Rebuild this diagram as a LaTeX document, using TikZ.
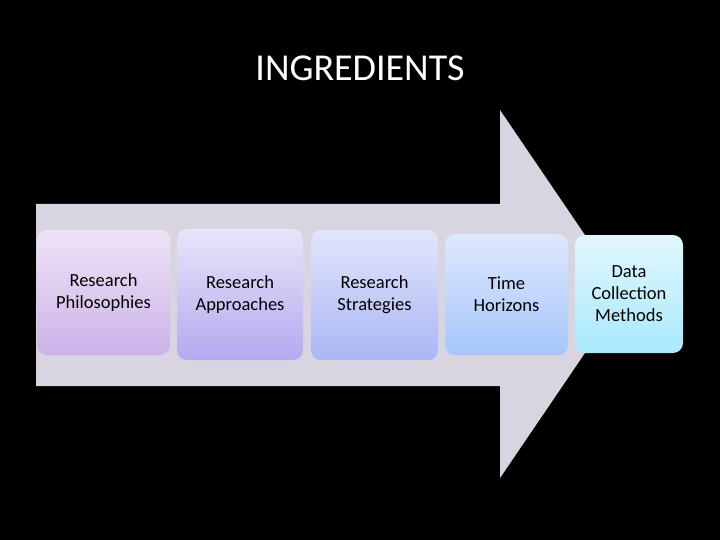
\documentclass[tikz,border=0pt]{standalone}
\usepackage{fontspec}
\setmainfont{Carlito}
\begin{document}
\begin{tikzpicture}[x=1pt,y=-1pt,
 box/.style={rounded corners=10pt,align=center,font=\fontsize{18.5}{22}\selectfont,text=black,inner sep=0pt}]
\fill[black] (0,0) rectangle (720,540);
\useasboundingbox (0,0) rectangle (720,540);
\node[text=white,font=\fontsize{38}{44}\selectfont] (title) at (360,68) {INGREDIENTS};
\fill[fill={rgb,255:red,216;green,212;blue,224}] (36,204) -- (500,204) -- (500,110) -- (625,294) -- (500,478) -- (500,386) -- (36,386) -- cycle;
\node[box,top color={rgb,255:red,238;green,228;blue,247},bottom color={rgb,255:red,204;green,178;blue,232},minimum width=133,minimum height=125] (b1) at (103.5,292.5) {Research\\Philosophies};
\node[box,top color={rgb,255:red,234;green,228;blue,250},bottom color={rgb,255:red,178;green,170;blue,238},minimum width=126,minimum height=131] (b2) at (240,294.5) {Research\\Approaches};
\node[box,top color={rgb,255:red,226;green,230;blue,251},bottom color={rgb,255:red,170;green,182;blue,244},minimum width=127,minimum height=130] (b3) at (374.5,295) {Research\\Strategies};
\node[box,top color={rgb,255:red,222;green,232;blue,252},bottom color={rgb,255:red,166;green,198;blue,252},minimum width=123,minimum height=121] (b4) at (506.5,294.5) {Time\\Horizons};
\node[box,top color={rgb,255:red,226;green,246;blue,253},bottom color={rgb,255:red,168;green,234;blue,252},minimum width=108,minimum height=118] (b5) at (629,294) {Data\\Collection\\Methods};
\end{tikzpicture}
\end{document}
